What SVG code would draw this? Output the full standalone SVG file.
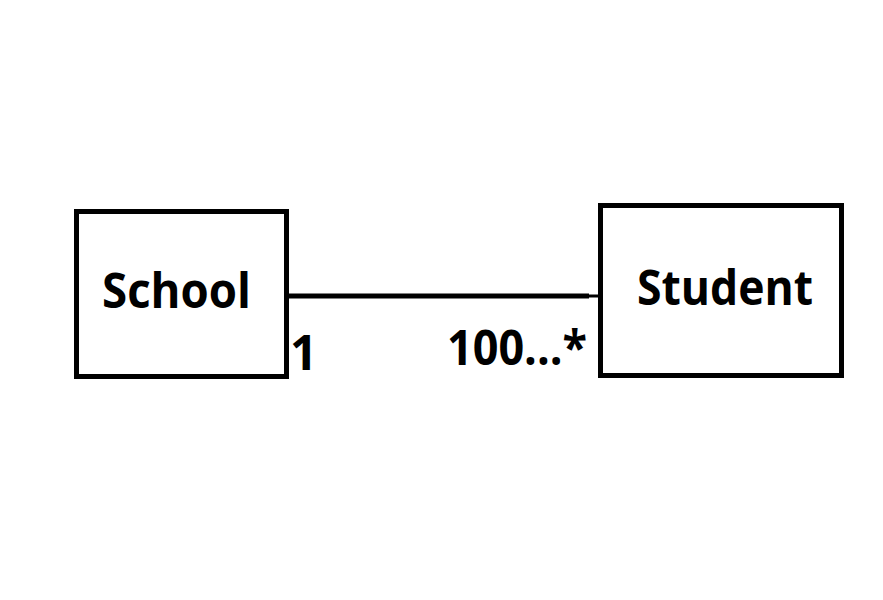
<svg xmlns="http://www.w3.org/2000/svg" width="883" height="600" viewBox="0 0 883 600">
<style>
.box{fill:#fff;stroke:#000;stroke-width:5}
.lbl{font-family:"Open Sans","Noto Sans","Liberation Sans",sans-serif;font-weight:bold;font-size:48px;fill:#000}
.conn{stroke:#000;stroke-width:5;fill:none}
</style>
<rect width="883" height="600" fill="#fff"/>
<g id="connectors">
<line class="conn" x1="287" y1="296" x2="589" y2="296"/>
<line class="conn" x1="588" y1="296" x2="600" y2="296" style="stroke-width:3"/>
<text class="lbl" x="290" y="370">1</text>
<text class="lbl" x="447" y="365" textLength="140" lengthAdjust="spacingAndGlyphs">100...*</text>
</g>
<g id="school">
<rect class="box" x="76.5" y="211.5" width="210" height="165"/>
<text class="lbl" x="102" y="308" textLength="149" lengthAdjust="spacingAndGlyphs">School</text>
</g>
<g id="student">
<rect class="box" x="600.5" y="205.5" width="241" height="170"/>
<text class="lbl" x="637" y="305" textLength="176" lengthAdjust="spacingAndGlyphs">Student</text>
</g>
</svg>
